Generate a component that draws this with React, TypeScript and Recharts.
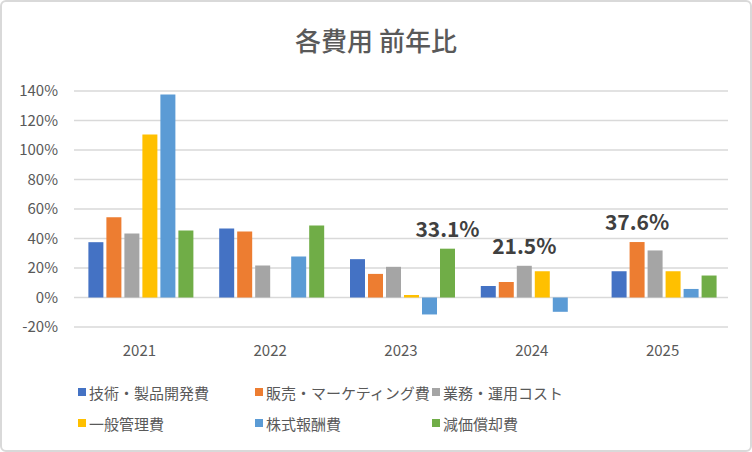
import React from 'react';
import { BarChart, Bar, XAxis, YAxis, CartesianGrid, LabelList } from 'recharts';

const years = ['2021', '2022', '2023', '2024', '2025'];

const seriesNames = [
  '技術・製品開発費',
  '販売・マーケティング費',
  '業務・運用コスト',
  '一般管理費',
  '株式報酬費',
  '減価償却費',
];

const COLORS = ['#4472C4', '#ED7D31', '#A5A5A5', '#FFC000', '#5B9BD5', '#70AD47'];

// 前年比 (%)
const techValues = [37.5, 46.8, 26.0, 7.8, 17.8];
const salesValues = [54.4, 44.7, 16.0, 10.5, 37.6];
const opsValues = [43.4, 21.7, 20.8, 21.5, 31.9];
const adminValues = [110.5, 0, 1.7, 17.8, 17.8];
const stockValues = [137.6, 27.8, -11.5, -9.7, 5.8];
const deprValues = [45.4, 48.8, 33.1, 0, 14.9];

// 強調ラベル (系列インデックスごと)
const calloutLabels: (string | null)[][] = [
  [null, null, null, null, null],
  [null, null, null, null, '37.6%'],
  [null, null, null, '21.5%', null],
  [null, null, null, null, null],
  [null, null, null, null, null],
  [null, null, '33.1%', null, null],
];

const yTicks = [-20, 0, 20, 40, 60, 80, 100, 120, 140];

const seriesValues = [techValues, salesValues, opsValues, adminValues, stockValues, deprValues];

const data = years.map((year, i) => {
  const row: Record<string, any> = { year };
  seriesValues.forEach((vals, s) => {
    row[`s${s}`] = vals[i];
    row[`l${s}`] = calloutLabels[s][i];
  });
  return row;
});

const FONT = '"Noto Sans CJK JP", "Noto Sans", sans-serif';

const renderCallout = (props: any) => {
  const { x, y, width, value } = props;
  if (value === null || value === undefined) return null;
  return (
    <text
      x={x + width / 2}
      y={y - 21}
      textAnchor="middle"
      dominantBaseline="central"
      fill="#404040"
      fontSize={21}
      fontWeight="bold"
      fontFamily={FONT}
    >
      {value}
    </text>
  );
};

export default function App() {
  return (
    <div
      style={{
        position: 'absolute',
        top: 0,
        left: 0,
        width: 752,
        height: 452,
        background: '#fff',
        fontFamily: FONT,
      }}
    >
      <div
        style={{
          position: 'absolute',
          top: 0,
          left: 0,
          width: 748,
          height: 448,
          border: '2px solid #d9d9d9',
          borderRadius: 6,
        }}
      />
      <div
        style={{
          position: 'absolute',
          top: 22,
          left: 0,
          width: 752,
          textAlign: 'center',
          fontSize: 26,
          color: '#595959',
          fontWeight: 500,
          lineHeight: '36px',
        }}
      >
        各費用 前年比
      </div>
      <BarChart
        width={752}
        height={452}
        data={data}
        margin={{ top: 91, right: 24, bottom: 95, left: 14 }}
        barCategoryGap="11%"
        barGap={3}
        style={{ position: 'absolute', top: 0, left: 0 }}
      >
        <CartesianGrid vertical={false} stroke="#d9d9d9" strokeWidth={1.5} />
        <XAxis
          dataKey="year"
          axisLine={false}
          tickLine={false}
          tickMargin={12}
          height={30}
          tick={{ fill: '#595959', fontSize: 15, fontFamily: FONT }}
        />
        <YAxis
          domain={[-20, 140]}
          ticks={yTicks}
          width={60}
          axisLine={false}
          tickLine={false}
          tickMargin={10}
          tickFormatter={(v: number) => `${v}%`}
          tick={{ fill: '#595959', fontSize: 15, fontFamily: FONT }}
        />
        {seriesNames.map((name, s) => (
          <Bar key={name} dataKey={`s${s}`} name={name} fill={COLORS[s]} isAnimationActive={false}>
            <LabelList dataKey={`l${s}`} content={renderCallout} />
          </Bar>
        ))}
      </BarChart>
      {seriesNames.map((name, s) => {
        const col = s % 3;
        const row = Math.floor(s / 3);
        const left = [78, 255, 432][col];
        const top = [392, 423][row];
        return (
          <div
            key={name}
            style={{
              position: 'absolute',
              left,
              top: top - 11,
              height: 22,
              display: 'flex',
              alignItems: 'center',
              fontSize: 15,
              color: '#595959',
              whiteSpace: 'nowrap',
            }}
          >
            <span
              style={{ width: 8, height: 8, background: COLORS[s], marginRight: 3, display: 'inline-block' }}
            />
            {name}
          </div>
        );
      })}
    </div>
  );
}
